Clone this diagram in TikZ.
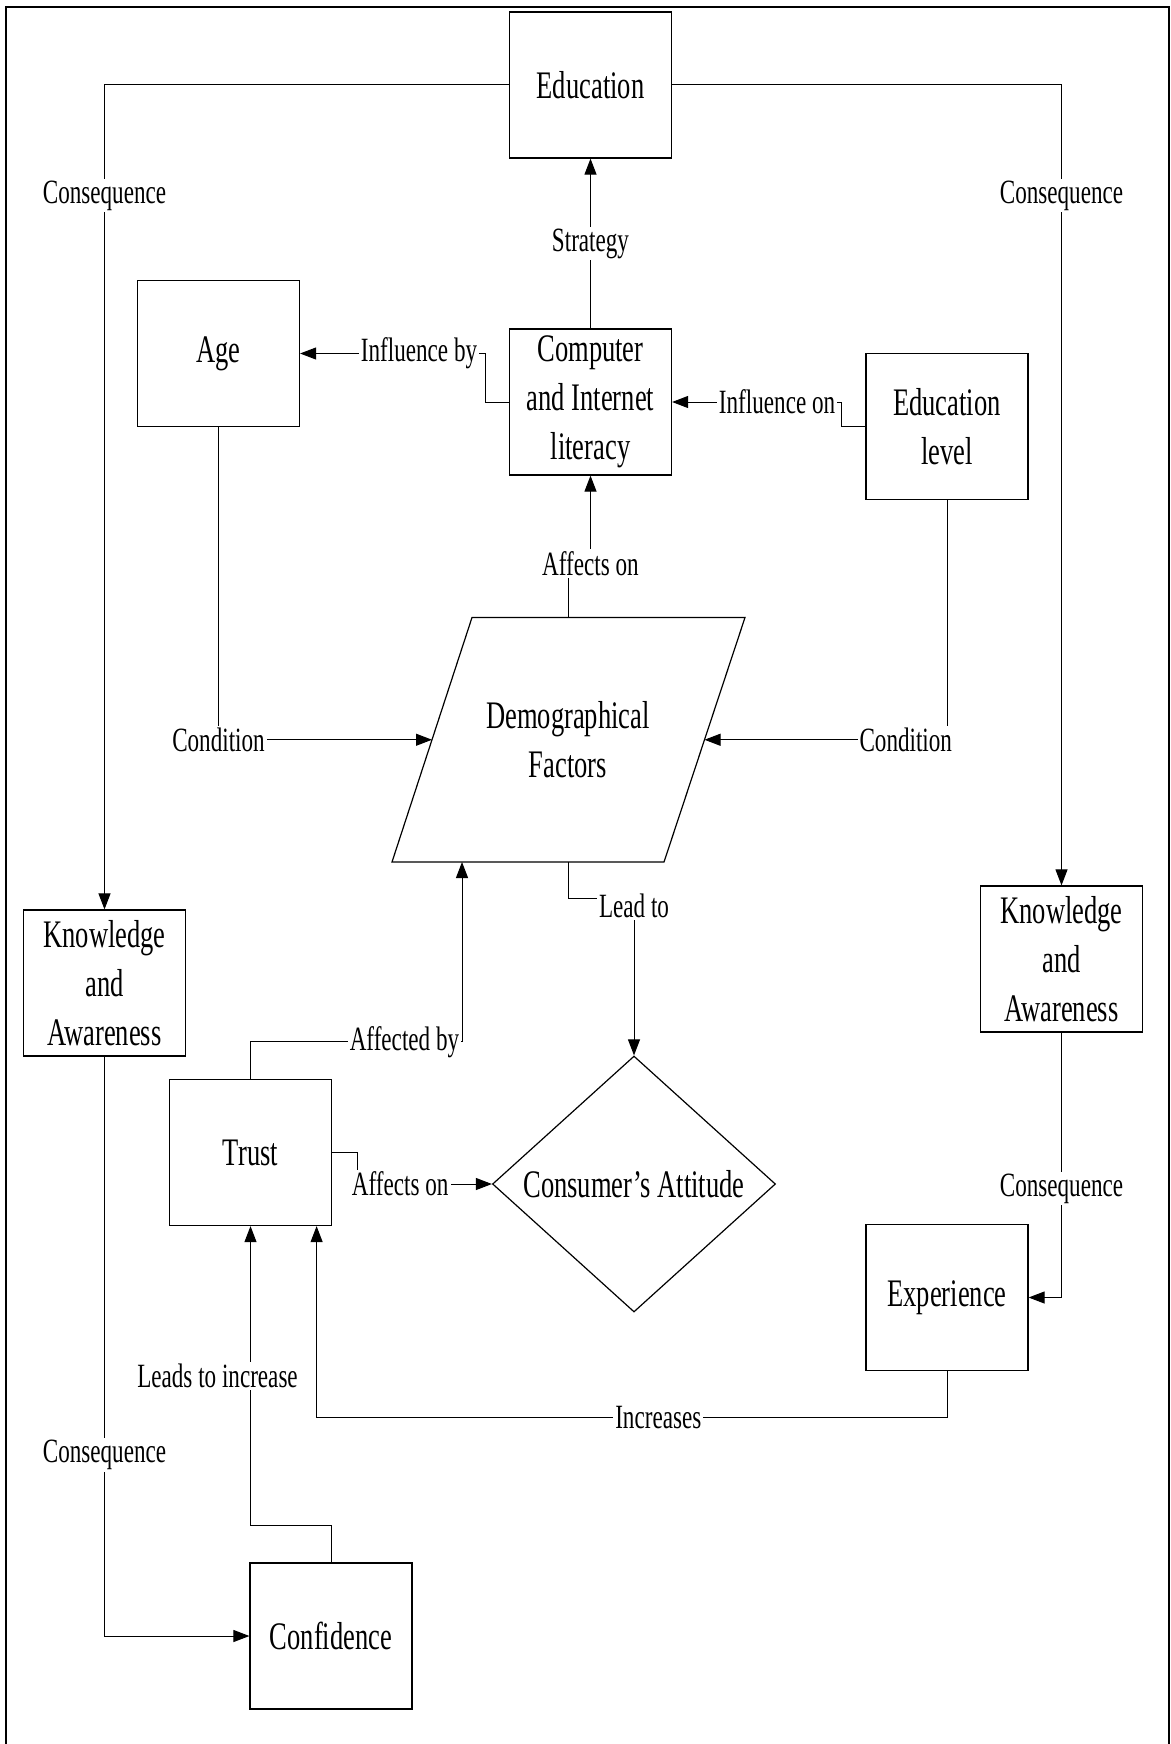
\documentclass[tikz,border=0pt]{standalone}
\usepackage{fontspec}
\setmainfont{Liberation Serif}[FakeStretch=0.68]
\usepackage{tikz}
\usetikzlibrary{arrows.meta,shapes.geometric,positioning,calc}
\tikzset{
	every node/.style={
		font=\fontsize{19.5}{24.5}\selectfont
	},
	box/.style={
		shape=rectangle,
		minimum width=81pt,
		minimum height=73pt,
		inner sep=0pt,
		align=center,
		line width=0.6pt,
		draw,
	},
	attitude/.style={
		shape=diamond,
		minimum width=141.5pt,
		minimum height=128pt,
		inner sep=0pt,
		line width=0.6pt,
		draw,
	},
	lbl/.style={
		fill=white,
		inner sep=1pt,
		font=\fontsize{17}{20}\selectfont
	},
	myline/.style={line width=0.6pt},
	myarrow/.style={line width=0.5pt,-{Triangle[length=8pt,width=6pt]}},
}

\begin{document}
\begin{tikzpicture}[x=0.5pt,y=-0.5pt]
		
		\useasboundingbox (0,0) rectangle (1171,1744);
		\draw[line width=1pt] (6,1750) -- (6,7) -- (1169,7) -- (1169,1750);
		
		% boxes
		\node[box] (edu) at (590.5,85) {Education};
		\node[box] (comp) at (590.5,402) {Computer\\and Internet\\literacy};
		\node[box] (age) at (218.5,353.5) {Age};
		\node[box] (edulvl) at (947,426.5) {Education\\level};
		\node[box] (know1) at (104.5,983) {Knowledge\\and\\Awareness};
		\node[box] (know2) at (1061.5,959) {Knowledge\\and\\Awareness};
		\node[box] (trust) at (250.5,1152.5) {Trust};
		\node[box] (exper) at (947,1297.5) {Experience};
		\node[box] (conf) at (331,1636) {Confidence};
		\node[attitude] (att) at (634,1184) {Consumer’s Attitude};
		
		% demographical factors
		\draw[myline] (472,617.5) -- (745,617.5) -- (664,862) -- (392,862) -- cycle;
		\node[align=center] (demo) at (568,740) {Demographical\\Factors};
		\coordinate (dtop) at (568,617.5);
		\coordinate (dbot) at (568,862);
		\coordinate (dbl) at (462,862);
		\coordinate (dl) at (432,739.75);
		\coordinate (dr) at (704.5,739.75);
		
		\draw[myarrow] (comp.north) -- node[lbl] {Strategy} (edu.south);
		\draw[myarrow] (edu.west) -| node[lbl,pos=0.567] {Consequence} (know1.north);
		\draw[myarrow] (edu.east) -| node[lbl,pos=0.569] {Consequence} (know2.north);
		\draw[myarrow] (comp.west) -- ++(-23,0) |- node[lbl,pos=0.68] {Influence by} (age.east);
		\draw[myarrow] (edulvl.west) -- ++(-24,0) |- node[lbl,pos=0.69] {Influence on} (comp.east);
		\draw[myarrow] (dtop) -- ++(0,-54) -| node[lbl,pos=0.5] {Affects on} (comp.south);
		\draw[myarrow] (age.south) |- node[lbl,pos=0.5] {Condition} (dl);
		\draw[myarrow] (edulvl.south) |- node[lbl,pos=0.585] {Condition} (dr);
		\draw[myarrow] (dbot) -- ++(0,36) -| node[lbl,pos=0.5,yshift=-4pt] {Lead to} (att.north);
		\draw[myarrow] (trust.north) -- ++(0,-37) -| node[lbl,pos=0.364] {Affected by} (dbl);
		\draw[myarrow] (trust.east) -- ++(25,0) |- node[lbl,pos=0.66] {Affects on} (att.west);
		\draw[myarrow] (conf.north) -- ++(0,-37) -| node[lbl,pos=0.75,xshift=-16.5pt] {Leads to increase} (trust.south);
		\draw[myarrow] (exper.south) -- ++(0,46) -| node[lbl,pos=0.229] {Increases} ([xshift=-7.75pt]trust.south east);
		\draw[myarrow] (know2.south) |- node[lbl,pos=0.294] {Consequence} (exper.east);
		\draw[myarrow] (know1.south) |- node[lbl,pos=0.344] {Consequence} (conf.west);
		
\end{tikzpicture}
\end{document}
